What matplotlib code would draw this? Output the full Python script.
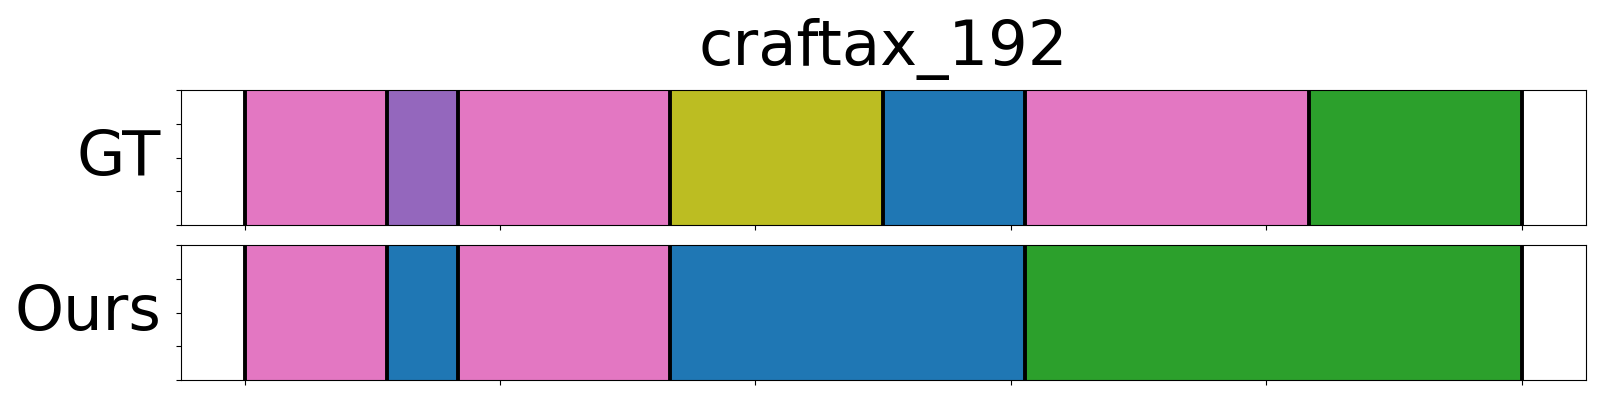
import matplotlib
matplotlib.use("Agg")
import matplotlib.pyplot as plt

# segmentos: frame de inicio, frame de fin, etiqueta (color)
n_frames = 180
gt_starts = [0, 20, 30, 60, 90, 110, 150]
gt_ends = [20, 30, 60, 90, 110, 150, 180]
gt_colors = ["tab:pink", "tab:purple", "tab:pink", "tab:olive", "tab:blue", "tab:pink", "tab:green"]

ours_starts = [0, 20, 30, 60, 110]
ours_ends = [20, 30, 60, 110, 180]
ours_colors = ["tab:pink", "tab:blue", "tab:pink", "tab:blue", "tab:green"]

rows = ["GT", "Ours"]
titulo = "craftax_192"

fig, axes = plt.subplots(2, 1, figsize=(16, 4), dpi=100, sharex=True)
fig.subplots_adjust(left=0.113, right=0.991, top=0.774, bottom=0.05, hspace=0.15)

datos = [(gt_starts, gt_ends, gt_colors), (ours_starts, ours_ends, ours_colors)]
for ax, nombre, (ini, fin, cols) in zip(axes, rows, datos):
    for s, e, c in zip(ini, fin, cols):
        ax.axvspan(s / n_frames, e / n_frames, color=c, lw=0)
    # lineas negras en los limites
    limites = sorted(set(ini + fin))
    for b in limites:
        ax.axvline(b / n_frames, color="black", lw=2.8)
    ax.set_xlim(-0.05, 1.05)
    ax.set_ylim(0, 1)
    ax.set_yticks([0, 0.25, 0.5, 0.75, 1.0])
    ax.set_yticklabels([])
    ax.set_xticks([0, 0.2, 0.4, 0.6, 0.8, 1.0])
    ax.tick_params(labelbottom=False)
    ax.set_ylabel(nombre, fontsize=45, rotation=0, ha="right", va="center", labelpad=7)

axes[0].set_title(titulo, fontsize=45, pad=18)

plt.savefig("out.png")
plt.close("all")
